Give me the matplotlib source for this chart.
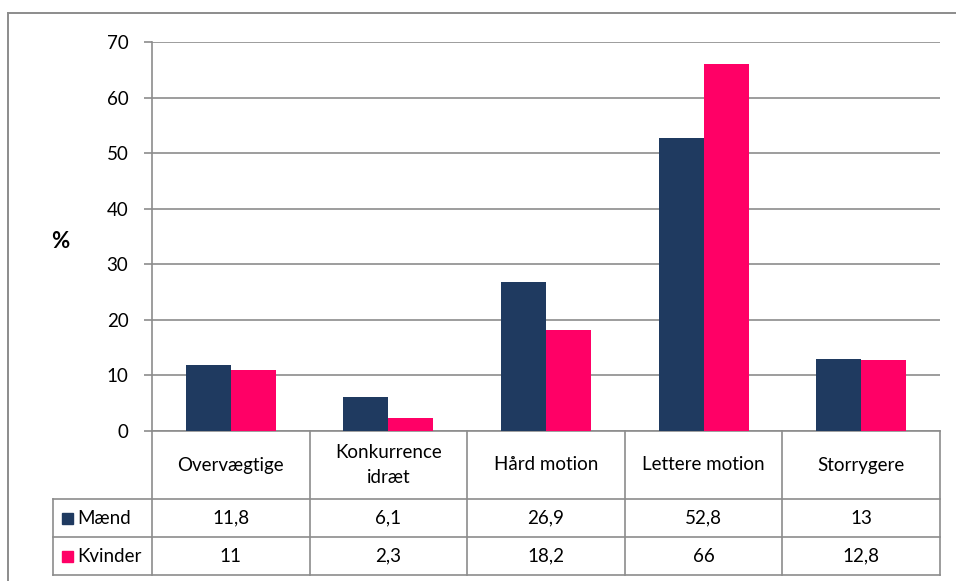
import numpy as np
import matplotlib
matplotlib.use('Agg')
import matplotlib.pyplot as plt
from matplotlib.lines import Line2D
from matplotlib.patches import Rectangle

categories = ["Overvægtige", "Konkurrence\nidræt", "Hård motion", "Lettere motion", "Storrygere"]
series_names = ["Mænd", "Kvinder"]
maend = [11.8, 6.1, 26.9, 52.8, 13]
kvinder = [11, 2.3, 18.2, 66, 12.8]
maend_labels = ["11,8", "6,1", "26,9", "52,8", "13"]
kvinder_labels = ["11", "2,3", "18,2", "66", "12,8"]
yticks = [0, 10, 20, 30, 40, 50, 60, 70]
ylabel = "%"

NAVY = '#1F3A60'
PINK = '#FF0066'
GRAY = '#8C8C8C'
FONT = 'Lato'
FS = 13.5

plt.rcParams['font.family'] = [FONT, 'DejaVu Sans']

W, H = 956, 581
fig = plt.figure(figsize=(W / 100, H / 100), dpi=100)


def fx(px):
    return px / W


def fy(py):
    return 1 - py / H


# main chart axes
ax = fig.add_axes([fx(152), fy(431), fx(940) - fx(152), fy(42) - fy(431)])
x = np.arange(len(categories))
bw = 0.286
ax.bar(x - bw / 2, maend, bw, color=NAVY, zorder=3)
ax.bar(x + bw / 2, kvinder, bw, color=PINK, zorder=3)
ax.set_xlim(-0.5, len(categories) - 0.5)
ax.set_ylim(0, 70)
ax.set_yticks(yticks)
ax.set_yticklabels([str(t) for t in yticks], fontsize=FS)
ax.set_xticks([])
ax.yaxis.grid(True, color=GRAY, lw=1.2, zorder=0)
ax.set_axisbelow(True)
for s in ['top', 'right']:
    ax.spines[s].set_visible(False)
for s in ['left', 'bottom']:
    ax.spines[s].set_color(GRAY)
    ax.spines[s].set_linewidth(1.2)
ax.tick_params(axis='y', length=6, width=1.2, color=GRAY, pad=11)

fig.text(fx(60), fy(242), ylabel, fontsize=FS + 2.5, fontweight='bold',
         ha='center', va='center')

# data table beneath
col_w = (940 - 152) / len(categories)
left_data = -0.5 - (152 - 53) / col_w
tab = fig.add_axes([fx(53), fy(575), fx(940) - fx(53), fy(431) - fy(575)])
tab.set_xlim(left_data, len(categories) - 0.5)
tab.set_ylim(144, 0)
tab.axis('off')

rows = [0, 68, 106, 144]
# vertical lines for category columns
for b in np.arange(-0.5, len(categories), 1.0):
    tab.add_line(Line2D([b, b], [0, 144], color=GRAY, lw=1.2, clip_on=False))
# legend column left edge
tab.add_line(Line2D([left_data, left_data], [68, 144], color=GRAY, lw=1.2, clip_on=False))
# horizontal lines
for r in rows[1:]:
    tab.add_line(Line2D([left_data, len(categories) - 0.5], [r, r], color=GRAY, lw=1.2,
                        clip_on=False))

for i, c in enumerate(categories):
    tab.text(i, 34, c, ha='center', va='center', fontsize=FS, linespacing=1.6)
    tab.text(i, 87, maend_labels[i], ha='center', va='center', fontsize=FS)
    tab.text(i, 125, kvinder_labels[i], ha='center', va='center', fontsize=FS)

# legend keys inside table
sq = 11 / col_w
for name, col, yc in [(series_names[0], NAVY, 87), (series_names[1], PINK, 125)]:
    x0 = left_data + (62 - 53) / col_w
    tab.add_patch(Rectangle((x0, yc - 5.5), sq, 11, color=col, clip_on=False))
    tab.text(left_data + (77 - 53) / col_w, yc, name, ha='left', va='center', fontsize=FS)

# outer chart frame (extends past the image)
fig.add_artist(Line2D([fx(8), fx(8)], [fy(13), 0], color=GRAY, lw=1.4))
fig.add_artist(Line2D([fx(8), 1], [fy(13), fy(13)], color=GRAY, lw=1.4))

fig.savefig('out.png', dpi=100)
